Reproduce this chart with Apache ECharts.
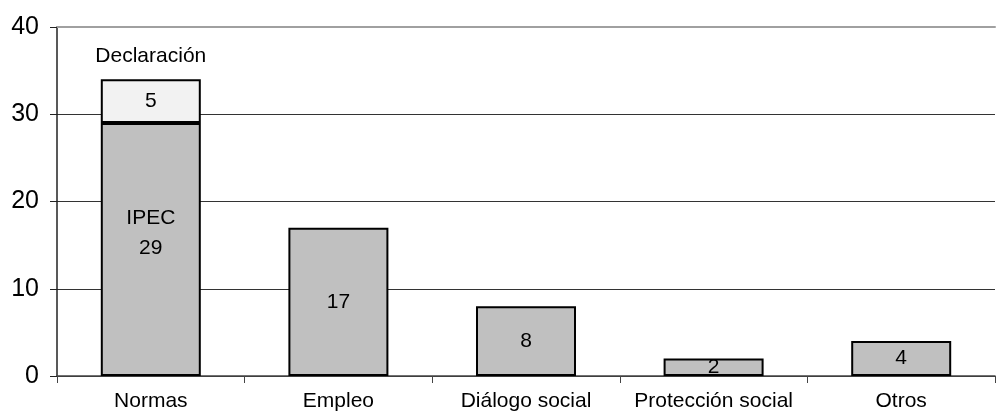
<!DOCTYPE html>
<html>
<head>
<meta charset="utf-8">
<script src="https://cdn.jsdelivr.net/npm/echarts@6/dist/echarts.min.js"></script>
<style>
  html, body { margin: 0; padding: 0; background: #fff; }
  #chart { width: 996px; height: 418px; }
</style>
</head>
<body>
<div id="chart"></div>
<script>
// Projects by area; the "Normas" column is split into IPEC and Declaración
const categories = ['Normas', 'Empleo', 'Diálogo social', 'Protección social', 'Otros'];
const mainValues = [29, 17, 8, 2, 4];
const mainTags = ['IPEC', '', '', '', ''];
const declValues = [5, '-', '-', '-', '-'];
const declName = 'Declaración';
const yMin = 0, yMax = 40, yStep = 10;

const FONT = '"Liberation Sans", Arial, sans-serif';
const VAL_SIZE = 21;

const mainData = mainValues.map((v, i) => {
  if (!mainTags[i]) return v;
  return {
    value: v,
    label: {
      formatter: p => '{t|' + mainTags[p.dataIndex] + '}\n{v|' + p.value + '}',
      offset: [0, -16],
      rich: {
        t: { fontSize: VAL_SIZE, lineHeight: 30, color: '#000', fontFamily: FONT },
        v: { fontSize: VAL_SIZE, lineHeight: 30, color: '#000', fontFamily: FONT }
      }
    }
  };
});

const chart = echarts.init(document.getElementById('chart'), null, { renderer: 'canvas' });
chart.setOption({
  animation: false,
  backgroundColor: '#fff',
  grid: { left: 57, right: 1, top: 27, bottom: 42 },
  xAxis: [
    {
      type: 'category',
      data: categories,
      axisLine: { lineStyle: { color: '#444', width: 1.5 } },
      axisTick: { show: true, interval: 0, length: 7, lineStyle: { color: '#444' } },
      axisLabel: { interval: 0, color: '#000', fontSize: 21, fontFamily: FONT, margin: 15 }
    },
    {
      // light rule along the top of the plot (the 40 line)
      type: 'category',
      position: 'top',
      data: categories,
      axisLine: { show: true, onZero: false, lineStyle: { color: '#a0a0a0', width: 2 } },
      axisTick: { show: false },
      axisLabel: { show: false },
      splitLine: { show: false }
    }
  ],
  yAxis: {
    type: 'value',
    min: yMin, max: yMax, interval: yStep,
    axisLine: { show: true, lineStyle: { color: '#222', width: 1.5 } },
    axisTick: { show: true, length: 7, lineStyle: { color: '#222' } },
    axisLabel: { color: '#000', fontSize: 25, fontFamily: FONT, margin: 18 },
    splitLine: { lineStyle: { color: ['#333', '#333', '#333', '#333', '#a0a0a0'], width: 1 } }
  },
  series: [
    {
      name: 'IPEC',
      type: 'bar',
      stack: 'total',
      barWidth: 100,
      data: mainData,
      itemStyle: { color: '#c0c0c0', borderColor: '#000', borderWidth: 2 },
      label: {
        show: true,
        position: 'inside',
        color: '#000',
        fontSize: VAL_SIZE,
        fontFamily: FONT
      },
      z: 2
    },
    {
      name: declName,
      type: 'bar',
      stack: 'total',
      barWidth: 100,
      data: declValues,
      itemStyle: { color: '#f2f2f2', borderColor: '#000', borderWidth: 2 },
      label: {
        show: true,
        position: 'inside',
        offset: [0, -22],
        formatter: p => '{t|' + p.seriesName + '}\n{v|' + p.value + '}',
        rich: {
          t: { fontSize: VAL_SIZE, lineHeight: 45, color: '#000', fontFamily: FONT },
          v: { fontSize: VAL_SIZE, lineHeight: 45, color: '#000', fontFamily: FONT }
        }
      },
      z: 2
    }
  ]
});
</script>
</body>
</html>
